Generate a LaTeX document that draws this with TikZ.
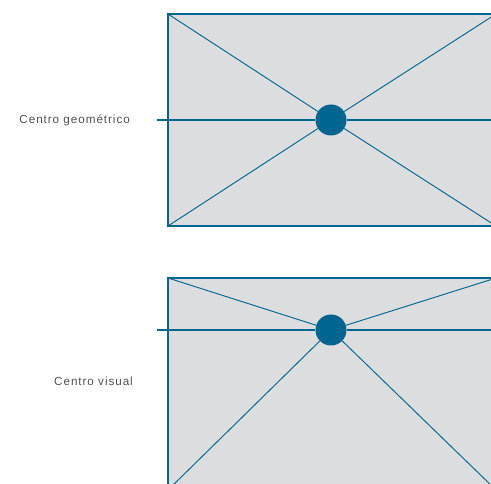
\documentclass[tikz,border=0pt]{standalone}
\usepackage{fontspec}
\usepackage{tikz}
\usetikzlibrary{positioning}
\newfontfamily\labelfont[LetterSpace=8]{Liberation Sans}
\definecolor{azul}{HTML}{00668F}
\definecolor{papel}{HTML}{DCDDDF}
\definecolor{texto}{HTML}{505050}
\tikzset{
  marco/.style={draw=azul, fill=papel, line width=0.9pt},
  guia/.style={draw=azul, line width=0.8pt},
  eje/.style={draw=azul, line width=2pt},
  centro/.style={circle, fill=azul, inner sep=0pt, minimum size=0.93cm},
  rotulo/.style={anchor=east, text=texto, font=\labelfont\fontsize{10}{12}\selectfont}
}
\begin{document}
\begin{tikzpicture}[x=0.03cm, y=-0.03cm]
        \useasboundingbox (0,0) rectangle (491,484);
        % geometric centre
        \coordinate (ALT) at (168,14);
        \coordinate (ART) at (496,14);
        \coordinate (ALB) at (168,226);
        \coordinate (ARB) at (496,226);
        \coordinate (AL) at (157,120);
        \coordinate (AR) at (491,120);
        \draw [marco] (ALT) rectangle (ARB);
        \node [centro] (GC) at (331,120) {};
        \draw [guia] (ALT) -- (GC);
        \draw [guia] (ART) -- (GC);
        \draw [guia] (ALB) -- (GC);
        \draw [guia] (ARB) -- (GC);
        \draw [eje] (AL) -- (GC);
        \draw [eje] (GC) -- (AR);
        \node [rotulo] (GT) at (134,120) {Centro geométrico};
        % visual centre
        \coordinate (BLT) at (168,278);
        \coordinate (BRT) at (496,278);
        \coordinate (BLB) at (168,490);
        \coordinate (BRB) at (496,490);
        \coordinate (BL) at (157,330);
        \coordinate (BR) at (491,330);
        \draw [marco] (BLT) rectangle (BRB);
        \node [centro] (VC) at (331,330) {};
        \draw [guia] (BLT) -- (VC);
        \draw [guia] (BRT) -- (VC);
        \draw [guia] (VC) -- (BLB);
        \draw [guia] (VC) -- (BRB);
        \draw [eje] (BL) -- (VC);
        \draw [eje] (VC) -- (BR);
        \node [rotulo] (VT) at (137,381) {Centro visual};
\end{tikzpicture}
\end{document}
